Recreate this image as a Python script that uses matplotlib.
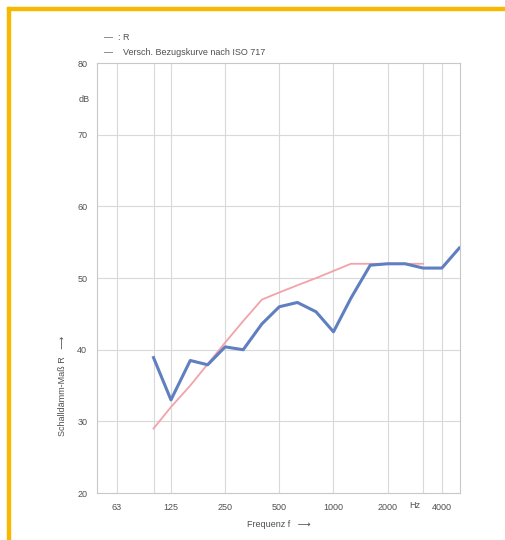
import numpy as np
import matplotlib.pyplot as plt
from matplotlib.patches import Rectangle

plt.rcParams['font.family'] = ['Liberation Sans', 'DejaVu Sans']

# third-octave centre frequencies (Hz)
freq = [100, 125, 160, 200, 250, 315, 400, 500, 630, 800,
        1000, 1250, 1600, 2000, 2500, 3150, 4000, 5000]
# measured sound reduction index R (dB)
R = [38.9, 33.0, 38.5, 37.9, 40.4, 40.0, 43.6, 46.0, 46.6, 45.3,
     42.5, 47.2, 51.8, 52.0, 52.0, 51.4, 51.4, 54.2]
# shifted ISO 717 reference curve (100 .. 3150 Hz)
ref_freq = freq[:16]
ref = [29, 32, 35, 38, 41, 44, 47, 48, 49, 50, 51, 52, 52, 52, 52, 52]

tick_freq = [62.5, 125, 250, 500, 1000, 2000, 4000]
tick_labels = ['63', '125', '250', '500', '1000', '2000', '4000']
y_ticks = [20, 30, 40, 50, 60, 70, 80]

txt = '#505050'
grid = '#d9d9d9'

fig = plt.figure(figsize=(5.05, 5.4), dpi=100)
ax = fig.add_axes([0.192, 0.087, 0.719, 0.796])

ax.set_xscale('log')
ax.set_xlim(48.5, 5050)
ax.set_ylim(20, 80)

# grid lines
for f in tick_freq + [100, 3150]:
    ax.axvline(f, color=grid, lw=0.8, zorder=0)
for y in y_ticks[1:-1]:
    ax.axhline(y, color=grid, lw=0.8, zorder=0)

ax.plot(ref_freq, ref, color='#f2a3a8', lw=1.3, zorder=2)
ax.plot(freq, R, color='#5f7fc0', lw=2.2, zorder=3)

ax.set_xticks(tick_freq)
ax.set_xticklabels(tick_labels)
ax.xaxis.set_minor_locator(plt.NullLocator())
ax.set_yticks(y_ticks)
ax.tick_params(length=0, labelsize=6.5, colors=txt, pad=7)

for s in ax.spines.values():
    s.set_color('#c8c8c8')
    s.set_linewidth(0.8)

# unit labels
ax.text(2830, -0.018, 'Hz', ha='center', va='top', fontsize=6.5, color=txt,
        transform=ax.get_xaxis_transform(), clip_on=False)
ax.text(-0.02, 75, 'dB', ha='right', va='center', fontsize=6.5, color=txt,
        transform=ax.get_yaxis_transform(), clip_on=False)

ax.set_xlabel('Frequenz f   \u27f6', fontsize=6.5, color=txt, labelpad=6)
ax.set_ylabel('Schalld\u00e4mm-Ma\u00df R   \u27f6', fontsize=6.5, color=txt)
ax.yaxis.set_label_coords(-0.083, 0.25)

# legend text above the plot
fig.text(0.205, 0.931, '\u2014  : R', fontsize=6.5, color=txt, va='center')
fig.text(0.205, 0.902, '\u2014    Versch. Bezugskurve nach ISO 717', fontsize=6.5,
         color=txt, va='center')

# yellow frame (top and left)
fig.patches.append(Rectangle((7 / 505, 0), 3 / 505, 1 - 7 / 540,
                             transform=fig.transFigure, color='#f7b900'))
fig.patches.append(Rectangle((7 / 505, 1 - 10 / 540), 1, 3 / 540,
                             transform=fig.transFigure, color='#f7b900'))

fig.savefig('out.png', dpi=100)
